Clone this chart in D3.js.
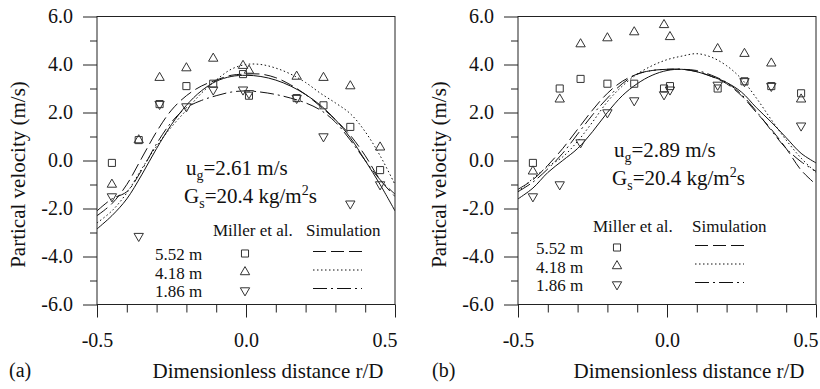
<!DOCTYPE html>
<html>
<head>
<meta charset="utf-8">
<script src="https://cdn.jsdelivr.net/npm/d3@7"></script>
<style>
body { margin: 0; background: #fff; }
svg text { font-family: "Liberation Serif", "DejaVu Serif", serif; fill: #111; }
</style>
</head>
<body>
<svg id="chart" width="820" height="389"></svg>
<script>
// simulation grid (r/D) and measurement positions
const gridX = [-0.5, -0.45, -0.4, -0.35, -0.3, -0.25, -0.2, -0.15, -0.1, -0.05, 0,
    0.05, 0.1, 0.15, 0.2, 0.25, 0.3, 0.35, 0.4, 0.45, 0.5];
const measX = [-0.45, -0.36, -0.29, -0.2, -0.11, -0.01, 0.01, 0.17, 0.26, 0.35, 0.45];

// panel (a): ug = 2.61 m/s
const aSim552 = [-2.3, -1.8, -1.0, 0.1, 1.2, 2.1, 2.7, 3.1, 3.35, 3.55, 3.6, 3.6, 3.45, 3.15, 2.75, 2.25, 1.7, 1.05, 0.2, -0.8, -1.5];
const aSim418 = [-2.6, -2.1, -1.35, -0.35, 0.6, 1.4, 2.1, 2.8, 3.35, 3.8, 4.0, 4.0, 3.85, 3.6, 3.25, 2.8, 2.4, 1.95, 1.2, 0.2, -1.0];
const aSim186 = [-2.1, -1.6, -1.3, -0.4, 0.7, 1.6, 2.2, 2.5, 2.7, 2.85, 2.9, 2.85, 2.75, 2.6, 2.4, 2.1, 1.6, 0.85, 0.0, -0.8, -1.4];
const aSimSolid = [-2.85, -2.3, -1.6, -0.6, 0.5, 1.5, 2.3, 2.9, 3.3, 3.5, 3.55, 3.5, 3.35, 3.1, 2.75, 2.3, 1.7, 0.95, 0.0, -1.0, -2.1];
const aExp552 = [-0.1, 0.85, 2.35, 3.1, 3.2, 3.6, 2.7, 2.6, 2.3, 1.4, -0.4];
const aExp418 = [-1.0, 0.85, 3.45, 3.85, 4.25, 3.95, 3.75, 3.5, 3.45, 3.1, 0.55];
const aExp186 = [-1.5, -3.15, 2.35, 2.25, 2.95, 2.95, 2.8, 2.6, 1.0, -1.8, -1.0];

// panel (b): ug = 2.89 m/s
const bSim552 = [-1.2, -0.8, -0.2, 0.5, 1.3, 2.1, 2.8, 3.3, 3.6, 3.75, 3.8, 3.8, 3.7, 3.5, 3.2, 2.7, 2.0, 1.3, 0.5, -0.4, -1.0];
const bSim418 = [-1.3, -0.75, -0.25, 0.15, 0.8, 1.6, 2.45, 3.1, 3.6, 3.95, 4.2, 4.35, 4.45, 4.3, 3.95, 3.4, 2.6, 1.7, 0.85, 0.1, -0.5];
const bSim186 = [-1.3, -0.9, -0.35, 0.3, 1.1, 1.9, 2.6, 3.2, 3.6, 3.75, 3.8, 3.8, 3.75, 3.55, 3.25, 2.75, 2.05, 1.25, 0.5, -0.05, -0.45];
const bSimSolid = [-1.6, -1.15, -0.5, 0.0, 0.5, 1.2, 2.0, 2.7, 3.2, 3.55, 3.75, 3.8, 3.7, 3.5, 3.25, 2.85, 2.2, 1.6, 0.95, 0.3, -0.1];
const bExp552 = [-0.1, 3.0, 3.4, 3.2, 3.2, 3.0, 3.1, 3.0, 3.3, 3.1, 2.8];
const bExp418 = [-0.45, 2.55, 4.85, 5.1, 5.35, 5.65, 5.15, 4.65, 4.45, 4.05, 2.55];
const bExp186 = [-1.5, -1.0, 0.75, 2.0, 2.5, 2.75, 2.95, 3.15, 3.3, 3.1, 1.45];

const legendRows = ["5.52 m", "4.18 m", "1.86 m"];
const yMajor = [-6, -4, -2, 0, 2, 4, 6];
const yMinor = [-5, -3, -1, 1, 3, 5];
const xMajor = [-0.5, 0, 0.5];
const xMinor = [-0.4, -0.3, -0.2, -0.1, 0.1, 0.2, 0.3, 0.4];

const FONT = '"Liberation Serif", "DejaVu Serif", serif';
const W = 298, H = 288;
const svg = d3.select("#chart");
const x = d3.scaleLinear().domain([-0.5, 0.5]).range([0, W]);
const y = d3.scaleLinear().domain([-6, 6]).range([H, 0]);
const fmt = (d) => d3.format(".1f")(d).replace("−", "-");

const dashes = ["13,5", "1.5,2.5", "14,4,2,4", null];
const symbols = [
    { type: d3.symbolSquare, size: 50, rot: 0 },
    { type: d3.symbolTriangle, size: 38, rot: 0 },
    { type: d3.symbolTriangle, size: 38, rot: 180 },
];

const panels = [
    {
        id: "a", ox: 97, oy: 16.5, tag: "(a)", tagX: 9,
        sims: [aSim552, aSim418, aSim186, aSimSolid],
        exps: [aExp552, aExp418, aExp186],
        ug: "2.61", annX: 89, annY: 158.5,
        leg: { x: 58, y: 243.5, mx: 148, lx: 216, head: 219, millerX: 116, simX: 209 },
    },
    {
        id: "b", ox: 518, oy: 16.5, tag: "(b)", tagX: 432,
        sims: [bSim552, bSim418, bSim186, bSimSolid],
        exps: [bExp552, bExp418, bExp186],
        ug: "2.89", annX: 96, annY: 140.5,
        leg: { x: 18, y: 237.5, mx: 99, lx: 177, head: 215.5, millerX: 75, simX: 174 },
    },
];

const line = d3.line()
    .x((d) => x(d[0]))
    .y((d) => y(d[1]))
    .curve(d3.curveCatmullRom);

for (const p of panels) {
    const g = svg.append("g").attr("transform", `translate(${p.ox},${p.oy})`);

    g.append("clipPath").attr("id", "clip-" + p.id)
        .append("rect").attr("width", W).attr("height", H);

    // frame
    g.append("rect").attr("width", W).attr("height", H)
        .attr("fill", "none").attr("stroke", "#222").attr("stroke-width", 1);

    // y axis: major ticks with labels, then unlabeled minor ticks
    const yAx = g.append("g")
        .call(d3.axisLeft(y).tickValues(yMajor).tickSize(14).tickPadding(10).tickFormat(fmt));
    yAx.selectAll("text").attr("font-size", 20).attr("font-family", FONT).attr("fill", "#111");
    yAx.append("g").call(d3.axisLeft(y).tickValues(yMinor).tickSize(7).tickFormat(""));
    yAx.selectAll(".domain").remove();
    yAx.selectAll("line").attr("stroke", "#222");

    // x axis
    const xAx = g.append("g").attr("transform", `translate(0,${H})`)
        .call(d3.axisBottom(x).tickValues(xMajor).tickSize(13).tickPadding(15).tickFormat(fmt));
    xAx.selectAll("text").attr("font-size", 20).attr("font-family", FONT).attr("fill", "#111")
        .filter((d) => d === 0.5).attr("text-anchor", "end").attr("x", 2);
    xAx.append("g").call(d3.axisBottom(x).tickValues(xMinor).tickSize(8).tickFormat(""));
    xAx.selectAll(".domain").remove();
    xAx.selectAll("line").attr("stroke", "#222");

    // axis titles
    g.append("text").attr("x", W / 2 + 22).attr("y", H + 73)
        .attr("text-anchor", "middle").attr("font-size", 21).attr("font-family", FONT)
        .text("Dimensionless distance r/D");
    g.append("text")
        .attr("transform", `translate(-72,${H / 2 + 14}) rotate(-90)`)
        .attr("text-anchor", "middle").attr("font-size", 21).attr("font-family", FONT)
        .text("Partical velocity (m/s)");
    svg.append("text").attr("x", p.tagX).attr("y", 377)
        .attr("font-size", 20).attr("font-family", FONT).text(p.tag);

    // simulation curves
    const cg = g.append("g").attr("clip-path", `url(#clip-${p.id})`);
    p.sims.forEach((s, i) => {
        cg.append("path")
            .datum(d3.zip(gridX, s))
            .attr("d", line)
            .attr("fill", "none")
            .attr("stroke", "#111")
            .attr("stroke-width", 1)
            .attr("stroke-dasharray", dashes[i]);
    });

    // measurements
    p.exps.forEach((s, i) => {
        const sym = d3.symbol().type(symbols[i].type).size(symbols[i].size);
        g.append("g").selectAll("path")
            .data(d3.zip(measX, s))
            .join("path")
            .attr("transform", (d) => `translate(${x(d[0])},${y(d[1])}) rotate(${symbols[i].rot})`)
            .attr("d", sym)
            .attr("fill", "none")
            .attr("stroke", "#333")
            .attr("stroke-width", 1);
    });

    // annotation
    const t1 = g.append("text").attr("x", p.annX).attr("y", p.annY)
        .attr("font-size", 21).attr("font-family", FONT);
    t1.append("tspan").text("u");
    t1.append("tspan").attr("font-size", 14).attr("dy", 5).text("g");
    t1.append("tspan").attr("dy", -5).text("=" + p.ug + " m/s");
    const t2 = g.append("text").attr("x", p.annX - 2).attr("y", p.annY + 28)
        .attr("font-size", 21).attr("font-family", FONT);
    t2.append("tspan").text("G");
    t2.append("tspan").attr("font-size", 14).attr("dy", 5).text("s");
    t2.append("tspan").attr("dy", -5).text("=20.4 kg/m");
    t2.append("tspan").attr("font-size", 14).attr("dy", -8).text("2");
    t2.append("tspan").attr("dy", 8).text("s");

    // legend
    const L = p.leg;
    const lg = g.append("g").attr("font-family", FONT).attr("font-size", 17);
    lg.append("text").attr("x", L.millerX).attr("y", L.head).text("Miller et al.");
    lg.append("text").attr("x", L.simX).attr("y", L.head).text("Simulation");
    legendRows.forEach((label, i) => {
        const by = L.y + i * 18.5;
        lg.append("text").attr("x", L.x).attr("y", by).text(label);
        const sym = d3.symbol().type(symbols[i].type).size(symbols[i].size);
        lg.append("path")
            .attr("transform", `translate(${L.mx},${by - 6.5}) rotate(${symbols[i].rot})`)
            .attr("d", sym).attr("fill", "none").attr("stroke", "#333");
        lg.append("line")
            .attr("x1", L.lx).attr("x2", L.lx + 49)
            .attr("y1", by - 8.5).attr("y2", by - 8.5)
            .attr("stroke", "#111").attr("stroke-dasharray", dashes[i]);
    });
}
</script>
</body>
</html>
